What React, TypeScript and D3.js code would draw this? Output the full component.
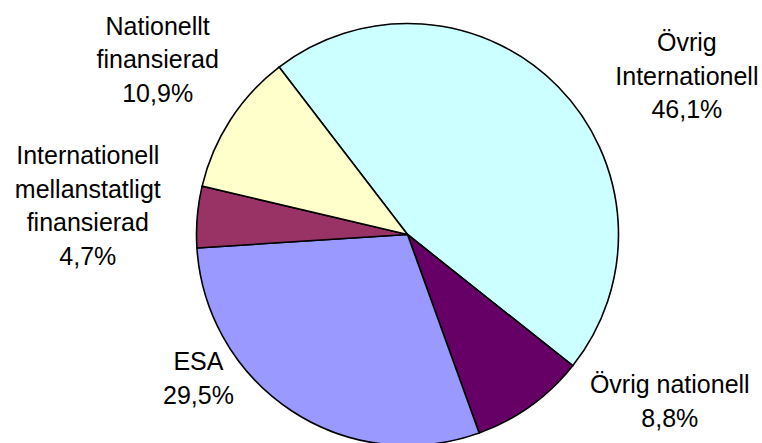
import * as d3 from 'd3'
import { useEffect, useRef } from 'react'

// slices in clockwise order, as drawn
const categories = [
  'Övrig\nInternationell',
  'Övrig nationell',
  'ESA',
  'Internationell\nmellanstatligt\nfinansierad',
  'Nationellt\nfinansierad'
]
const shares = [46.1, 8.8, 29.5, 4.7, 10.9]
const colors = ['#CCFFFF', '#660066', '#9999FF', '#993366', '#FFFFCC']

// label placement (angle from 12 o'clock in degrees, distance from centre)
const labelAngles = [60.5, 122.5, 235.4, 275.1, 305]
const labelRadii = [321, 311, 254, 321, 305]

const W = 762
const H = 443

const App = () => {
  const ref = useRef<SVGSVGElement>(null)

  useEffect(() => {
    if (!ref.current) return
    const svg = d3.select(ref.current)
    svg.selectAll('*').remove()

    const cx = 407.5
    const cy = 234.5
    const r = 211
    const start = (-37.5 * Math.PI) / 180

    const data = shares.map((v, i) => ({ name: categories[i], value: v, color: colors[i], i }))

    const pie = d3.pie<typeof data[0]>()
      .sort(null)
      .value(d => d.value)
      .startAngle(start)
      .endAngle(start + 2 * Math.PI)

    const arc = d3.arc<d3.PieArcDatum<typeof data[0]>>()
      .innerRadius(0)
      .outerRadius(r)

    const g = svg.append('g').attr('transform', `translate(${cx},${cy})`)

    g.selectAll('path')
      .data(pie(data))
      .enter()
      .append('path')
      .attr('d', arc)
      .attr('fill', d => d.data.color)
      .attr('stroke', '#000')
      .attr('stroke-width', 1.6)
      .attr('stroke-linejoin', 'round')

    const sv = d3.formatLocale({ decimal: ',', thousands: ' ', grouping: [3], currency: ['', ' kr'] })
    const fmt = sv.format('.1f')
    const fontSize = 25
    const lineH = 33.5

    data.forEach((d, i) => {
      const a = (labelAngles[i] * Math.PI) / 180
      const lx = labelRadii[i] * Math.sin(a)
      const ly = -labelRadii[i] * Math.cos(a)
      const lines = [...d.name.split('\n'), `${fmt(d.value)}%`]
      const firstBase = ly + 8.5 - ((lines.length - 1) * lineH) / 2
      const t = g.append('text')
        .attr('text-anchor', 'middle')
        .style('font-family', '"Liberation Sans", Arial, sans-serif')
        .style('font-size', `${fontSize}px`)
        .style('fill', '#000')
      lines.forEach((line, k) => {
        t.append('tspan')
          .attr('x', lx)
          .attr('y', firstBase + k * lineH)
          .text(line)
      })
    })
  }, [])

  return (
    <svg
      ref={ref}
      width={W}
      height={H}
      style={{ position: 'absolute', left: 0, top: 0, background: '#fff', display: 'block' }}
    />
  )
}

export default App
